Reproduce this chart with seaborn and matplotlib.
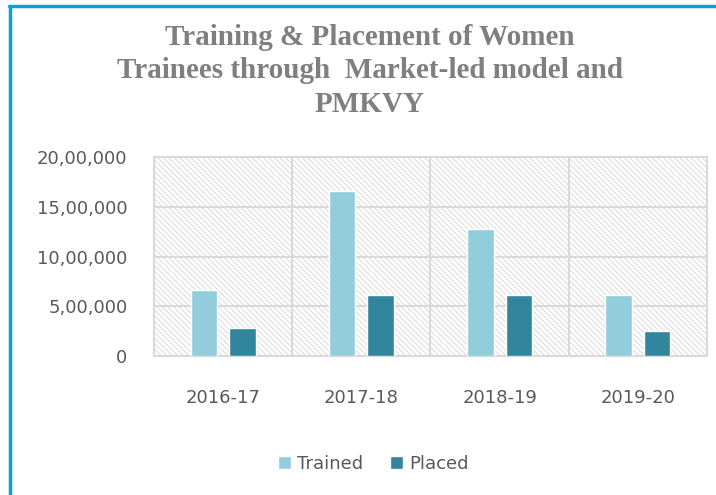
import numpy as np
import pandas as pd
import matplotlib
matplotlib.use('Agg')
import matplotlib.pyplot as plt
import seaborn as sns
from matplotlib.patches import Rectangle
from matplotlib.lines import Line2D
from matplotlib.ticker import FuncFormatter

# data
years = ['2016-17', '2017-18', '2018-19', '2019-20']
trained = [663000, 1658000, 1276000, 613000]
placed = [281000, 613000, 613000, 251000]
series = ['Trained', 'Placed']
colors = ['#92CDDC', '#31859C']

df = pd.DataFrame({
    'year': years * 2,
    'value': trained + placed,
    'series': ['Trained'] * len(years) + ['Placed'] * len(years),
})

sns.set_style('white')
plt.rcParams['font.family'] = ['DejaVu Sans']
plt.rcParams['hatch.linewidth'] = 0.6

fig = plt.figure(figsize=(7.16, 4.95), dpi=100)
ax = fig.add_axes([0.2151, 0.2808, 0.7723, 0.402])

# hatched plot background
bg = Rectangle((0, 0), 1, 1, transform=ax.transAxes, facecolor='white',
               edgecolor='#d4d4d4', hatch=r'\\\\\\', linewidth=0, zorder=0)
ax.add_patch(bg)

sns.barplot(data=df, x='year', y='value', hue='series', hue_order=series,
            palette=colors, width=0.555, gap=0.31, ax=ax, zorder=3,
            legend=True, saturation=1)

ax.set_xlim(-0.5, len(years) - 0.5)
ax.set_ylim(0, 2000000)
ax.set_yticks([0, 500000, 1000000, 1500000, 2000000])


def indian_fmt(v, pos):
    v = int(round(v))
    if v == 0:
        return '0'
    s = str(v)
    last3 = s[-3:]
    rest = s[:-3]
    parts = []
    while len(rest) > 2:
        parts.insert(0, rest[-2:])
        rest = rest[:-2]
    if rest:
        parts.insert(0, rest)
    return ','.join(parts + [last3])


ax.yaxis.set_major_formatter(FuncFormatter(indian_fmt))
ax.set_xlabel('')
ax.set_ylabel('')

# gridlines: horizontal at ticks, vertical between categories
for yv in [500000, 1000000, 1500000]:
    ax.axhline(yv, color='#d9d9d9', linewidth=1.5, zorder=1)
for xv in [0.5, 1.5, 2.5]:
    ax.axvline(xv, color='#d9d9d9', linewidth=1.5, zorder=1)
for sp in ax.spines.values():
    sp.set_visible(True)
    sp.set_color('#d9d9d9')
    sp.set_linewidth(1.5)

ax.tick_params(axis='both', length=0, labelsize=13, colors='#595959')
ax.tick_params(axis='y', pad=19)
ax.tick_params(axis='x', pad=24)

ax.legend_.remove()
handles = [Rectangle((0, 0), 1, 1, facecolor=c) for c in colors]
fig.legend(handles, series, loc='center', bbox_to_anchor=(373 / 716, 1 - 464 / 495),
           ncol=2, frameon=False, fontsize=13, handlelength=0.75, handleheight=0.75,
           handletextpad=0.3, columnspacing=1.5, labelcolor='#595959')

fig.text(370 / 716, 1 - 71 / 495,
         'Training & Placement of Women\nTrainees through  Market-led model and\nPMKVY',
         ha='center', va='center', fontsize=21, fontweight='bold', color='#7f7f7f',
         family='Liberation Serif', linespacing=1.3)

# blue frame on left and top
fig.add_artist(Line2D([9.5 / 716, 9.5 / 716], [0, 1 - 5.5 / 495], color='#0AA0E0',
                      linewidth=2.5, transform=fig.transFigure))
fig.add_artist(Line2D([8.5 / 716, 1], [1 - 5.5 / 495, 1 - 5.5 / 495], color='#0AA0E0',
                      linewidth=2.5, transform=fig.transFigure))

fig.savefig('out.png', dpi=100)
